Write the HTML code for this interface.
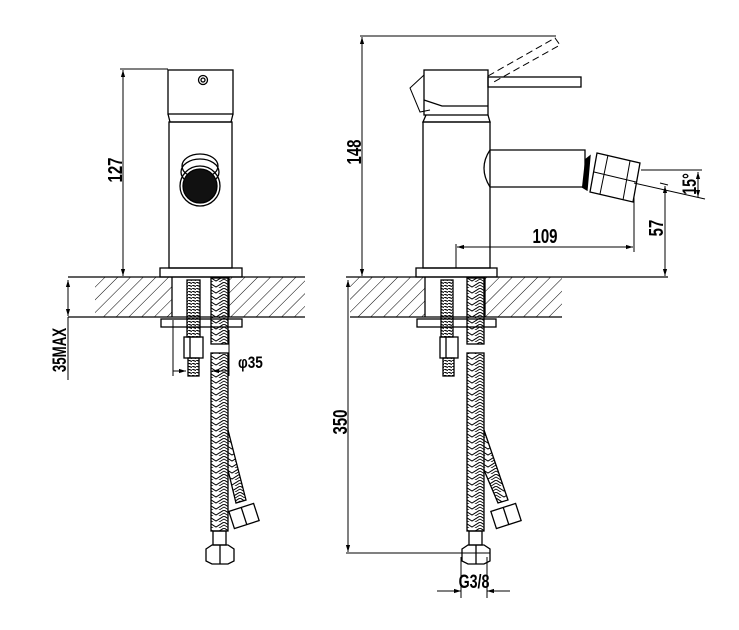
<!DOCTYPE html>
<html><head><meta charset="utf-8"><style>
html,body{margin:0;padding:0;background:#fff;}
svg{display:block;}
text{font-family:"Liberation Sans",sans-serif;font-weight:bold;fill:#000;}
</style></head><body>
<svg width="739" height="630" viewBox="0 0 739 630" xmlns="http://www.w3.org/2000/svg">
<defs>
<pattern id="hatch" width="9" height="9" patternUnits="userSpaceOnUse" patternTransform="rotate(45)">
<line x1="0" y1="0" x2="0" y2="9" stroke="#000" stroke-width="1"/>
</pattern>
<pattern id="braid" width="16" height="6" patternUnits="userSpaceOnUse">
<polyline points="0,0 8,5 16,0" fill="none" stroke="#000" stroke-width="1"/>
<polyline points="0,3 8,8 16,3" fill="none" stroke="#000" stroke-width="0.8"/>
</pattern>
<pattern id="thread" width="4" height="3" patternUnits="userSpaceOnUse">
<line x1="0" y1="0" x2="4" y2="1.5" stroke="#000" stroke-width="1.2"/>
</pattern>
<marker id="ar" viewBox="0 0 10 10" refX="10" refY="5" markerWidth="9" markerHeight="7" orient="auto-start-reverse" markerUnits="userSpaceOnUse">
<path d="M0,2 L10,5 L0,8 z" fill="#000"/>
</marker>
</defs>
<g fill="none" stroke="#000" stroke-width="1.3">

<!-- ========== LEFT VIEW ========== -->
<rect x="168" y="70" width="65" height="44"/>
<circle cx="203" cy="80" r="4.5"/><circle cx="203" cy="80" r="2"/>
<path d="M168,114 L170,122 L231,122 L233,114"/>
<rect x="169" y="122" width="63" height="146"/>
<ellipse cx="200" cy="166" rx="18" ry="12"/>
<ellipse cx="200" cy="172" rx="19" ry="13"/>
<circle cx="200" cy="186" r="20"/>
<circle cx="200" cy="186" r="17" fill="#111"/>
<rect x="160" y="268" width="82" height="9"/>
<rect x="95" y="277" width="77" height="40" fill="url(#hatch)" stroke="none"/>
<rect x="229" y="277" width="76" height="40" fill="url(#hatch)" stroke="none"/>
<line x1="68" y1="277" x2="305" y2="277"/>
<line x1="68" y1="317" x2="305" y2="317"/>
<line x1="172" y1="277" x2="172" y2="317"/>
<line x1="229" y1="277" x2="229" y2="317"/>
<rect x="161" y="319" width="81" height="8"/>
<rect x="187" y="280" width="13" height="57" fill="url(#thread)"/>
<rect x="184" y="337" width="19" height="21"/>
<line x1="190" y1="337" x2="190" y2="358"/>
<rect x="188" y="358" width="11" height="18" fill="url(#thread)"/>
<rect x="211" y="278" width="17" height="66" fill="url(#braid)"/>
<rect x="211" y="353" width="17" height="178" fill="url(#braid)"/>
<rect x="213" y="531" width="13" height="14"/>
<path d="M206,549 L212,545 L228,545 L234,549 L234,561 L228,564 L212,564 L206,561 Z"/>
<line x1="220" y1="545" x2="220" y2="564"/>
<path d="M228,430 L246,500 L236,503 L228,470" fill="url(#braid)"/>
<g transform="translate(244,516) rotate(-18)">
<rect x="-13" y="-9" width="26" height="18"/><line x1="0" y1="-9" x2="0" y2="9"/>
</g>
<line x1="120" y1="69" x2="168" y2="69" stroke-width="1"/>
<line x1="123" y1="70" x2="123" y2="276" stroke-width="1" marker-start="url(#ar)" marker-end="url(#ar)"/>
<line x1="68" y1="280" x2="68" y2="316" stroke-width="1" marker-start="url(#ar)" marker-end="url(#ar)"/>
<line x1="68" y1="317" x2="68" y2="380" stroke-width="1"/>
<line x1="173" y1="320" x2="173" y2="376" stroke-width="1"/>
<line x1="229" y1="330" x2="229" y2="376" stroke-width="1"/>
<line x1="173" y1="371" x2="186" y2="371" stroke-width="1" marker-end="url(#ar)"/>
<line x1="212" y1="371" x2="229" y2="371" stroke-width="1" marker-start="url(#ar)"/>

<!-- ========== RIGHT VIEW ========== -->
<rect x="424" y="70" width="64" height="45"/>
<path d="M424,100 L442,106 L488,106" stroke-width="1.2"/>
<path d="M424,75 L410,88 L420,112 L430,110" stroke-width="1"/>
<rect x="488" y="77" width="93" height="10"/>
<path d="M488,76 L555,38 L560,45 L492,83" stroke-dasharray="7,4" stroke-width="1"/>
<path d="M426,115 L423,122 L490,122 L488,115"/>
<rect x="423" y="122" width="67" height="146"/>
<path d="M490,150 L585,150 L585,187 L490,187"/>
<path d="M490,150 Q478,168 490,187"/>
<path d="M585,160 L590,156 L587,190 L582,187" fill="#000"/>
<path d="M597,153 L640,163 L633,202 L590,192 Z"/>
<path d="M608,155 L600,194 M630,161 L623,200 M594,172 L636,182" stroke-width="1"/>
<line x1="641" y1="170" x2="702" y2="170" stroke-width="1"/>
<line x1="634" y1="183" x2="705" y2="199" stroke-width="1"/>
<line x1="698" y1="172" x2="698" y2="197" stroke-width="1" marker-start="url(#ar)" marker-end="url(#ar)"/>
<line x1="660" y1="183" x2="668" y2="185" stroke-width="1"/>
<line x1="665" y1="186" x2="665" y2="276" stroke-width="1" marker-start="url(#ar)" marker-end="url(#ar)"/>
<line x1="634" y1="196" x2="634" y2="252" stroke-width="1"/>
<line x1="456" y1="244" x2="456" y2="268" stroke-width="1"/>
<line x1="457" y1="247" x2="633" y2="247" stroke-width="1" marker-start="url(#ar)" marker-end="url(#ar)"/>
<line x1="360" y1="36" x2="556" y2="36" stroke-width="1"/>
<line x1="362" y1="37" x2="362" y2="276" stroke-width="1" marker-start="url(#ar)" marker-end="url(#ar)"/>
<rect x="416" y="268" width="81" height="9"/>
<rect x="350" y="277" width="75" height="40" fill="url(#hatch)" stroke="none"/>
<rect x="485" y="277" width="77" height="40" fill="url(#hatch)" stroke="none"/>
<line x1="346" y1="277" x2="668" y2="277"/>
<line x1="350" y1="317" x2="562" y2="317"/>
<line x1="425" y1="277" x2="425" y2="317"/>
<line x1="485" y1="277" x2="485" y2="317"/>
<rect x="417" y="319" width="79" height="8"/>
<rect x="441" y="280" width="12" height="57" fill="url(#thread)"/>
<rect x="440" y="337" width="18" height="21"/>
<line x1="446" y1="337" x2="446" y2="358"/>
<rect x="443" y="358" width="11" height="18" fill="url(#thread)"/>
<rect x="467" y="278" width="17" height="66" fill="url(#braid)"/>
<rect x="467" y="353" width="17" height="178" fill="url(#braid)"/>
<rect x="469" y="531" width="13" height="14"/>
<path d="M462,549 L468,545 L484,545 L490,549 L490,561 L484,564 L468,564 L462,561 Z"/>
<line x1="476" y1="545" x2="476" y2="564"/>
<path d="M484,430 L508,500 L498,503 L484,470" fill="url(#braid)"/>
<g transform="translate(506,516) rotate(-18)">
<rect x="-13" y="-9" width="26" height="18"/><line x1="0" y1="-9" x2="0" y2="9"/>
</g>
<line x1="348" y1="280" x2="348" y2="552" stroke-width="1" marker-start="url(#ar)" marker-end="url(#ar)"/>
<line x1="346" y1="553" x2="490" y2="553" stroke-width="1"/>
<line x1="461" y1="557" x2="461" y2="598" stroke-width="1"/>
<line x1="487" y1="557" x2="487" y2="598" stroke-width="1"/>
<line x1="437" y1="591" x2="461" y2="591" stroke-width="1" marker-end="url(#ar)"/>
<line x1="510" y1="591" x2="487" y2="591" stroke-width="1" marker-end="url(#ar)"/>
</g>

<!-- labels (condensed tall) -->
<text font-size="20" transform="translate(122,170) rotate(-90) scale(0.75,1)" text-anchor="middle">127</text>
<text font-size="19" transform="translate(66,350) rotate(-90) scale(0.7,1)" text-anchor="middle">35MAX</text>
<text font-size="17" transform="translate(238,368) scale(0.8,1)">φ35</text>
<text font-size="20" transform="translate(361,152) rotate(-90) scale(0.75,1)" text-anchor="middle">148</text>
<text font-size="20" transform="translate(545,243) scale(0.75,1)" text-anchor="middle">109</text>
<text font-size="20" transform="translate(663,228) rotate(-90) scale(0.75,1)" text-anchor="middle">57</text>
<text font-size="19" transform="translate(696,184) rotate(-90) scale(0.75,1)" text-anchor="middle">15°</text>
<text font-size="20" transform="translate(347,422) rotate(-90) scale(0.75,1)" text-anchor="middle">350</text>
<text font-size="19" transform="translate(474,588) scale(0.75,1)" text-anchor="middle">G3/8</text>
</svg>
</body></html>
